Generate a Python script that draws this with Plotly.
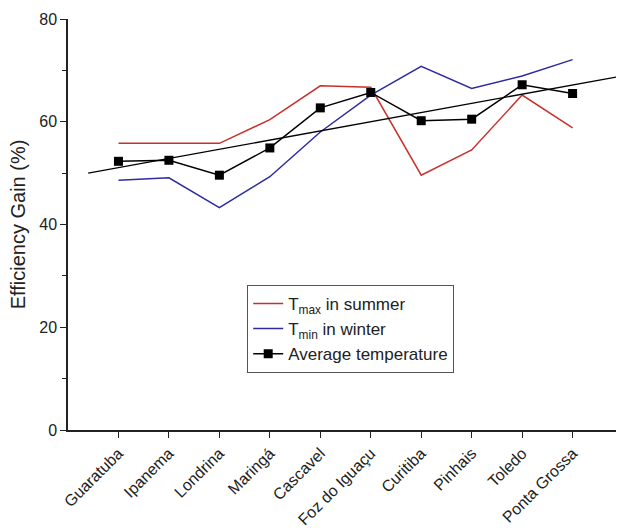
import numpy as np
import plotly.graph_objects as go

cities = ["Guaratuba", "Ipanema", "Londrina", "Maringá", "Cascavel",
          "Foz do Iguaçu", "Curitiba", "Pinhais", "Toledo", "Ponta Grossa"]
tmax_summer = [55.8, 55.8, 55.8, 60.4, 67.0, 66.7, 49.6, 54.5, 65.2, 58.8]
tmin_winter = [48.6, 49.1, 43.3, 49.3, 58.0, 65.2, 70.8, 66.5, 68.9, 72.1]
avg_temp = [52.3, 52.5, 49.6, 54.9, 62.7, 65.7, 60.2, 60.5, 67.2, 65.5]
y_ticks = [0, 20, 40, 60, 80]

idx = np.arange(len(cities))
slope, intercept = np.polyfit(idx, avg_temp, 1)
fit_x = np.array([-0.6, 9.86])
fit_y = slope * fit_x + intercept

fig = go.Figure()
fig.add_trace(go.Scatter(x=idx, y=tmax_summer, mode="lines",
                         line=dict(color="#c8302c", width=1.5),
                         name="T<sub>max</sub> in summer"))
fig.add_trace(go.Scatter(x=idx, y=tmin_winter, mode="lines",
                         line=dict(color="#2c2ca0", width=1.5),
                         name="T<sub>min</sub> in winter"))
fig.add_trace(go.Scatter(x=idx, y=avg_temp, mode="lines+markers",
                         line=dict(color="black", width=1.5),
                         marker=dict(symbol="square", size=9, color="black"),
                         name="Average temperature"))
fig.add_trace(go.Scatter(x=fit_x, y=fit_y, mode="lines",
                         line=dict(color="black", width=1.3),
                         showlegend=False))

fig.update_layout(
    width=622, height=532,
    margin=dict(l=68, r=6, t=19, b=102),
    plot_bgcolor="white", paper_bgcolor="white",
    font=dict(family="Liberation Sans, Arial", color="#222"),
    legend=dict(x=0.327, y=0.353, xanchor="left", yanchor="top",
                bordercolor="#555", borderwidth=1, bgcolor="white",
                font=dict(size=17), tracegroupgap=0, itemwidth=30),
    xaxis=dict(range=[-1, 9.86], tickmode="array", tickvals=idx, ticktext=cities,
               tickangle=-45, ticks="outside", ticklen=6, tickcolor="#222",
               showline=True, linecolor="#222", linewidth=1.5, showgrid=False,
               zeroline=False, automargin=False, tickfont=dict(size=16, color="#222")),
    yaxis=dict(range=[0, 80], tickmode="array", tickvals=y_ticks,
               ticks="outside", ticklen=6, tickcolor="#222",
               minor=dict(ticks="outside", ticklen=4, dtick=10, tick0=0, tickcolor="#222"),
               showline=True, linecolor="#222", linewidth=1.5, showgrid=False,
               zeroline=False, automargin=False, tickfont=dict(size=16),
               title=dict(text="Efficiency Gain (%)", font=dict(size=20), standoff=8)),
)

fig.write_html("out.html")
